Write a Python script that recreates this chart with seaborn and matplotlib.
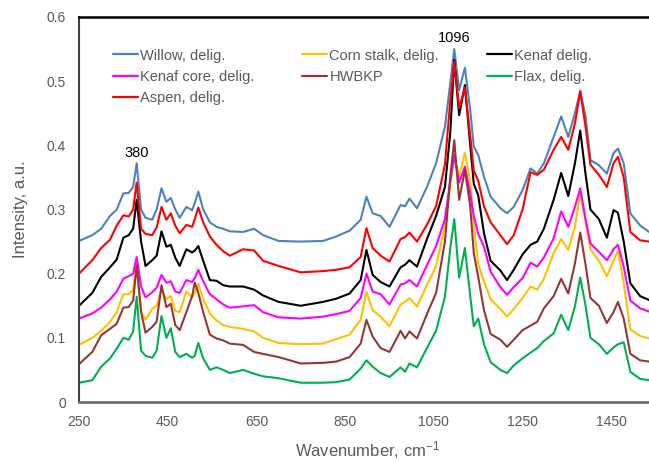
import numpy as np
import pandas as pd
import matplotlib
matplotlib.use("Agg")
import matplotlib.pyplot as plt
from matplotlib.lines import Line2D
import seaborn as sns

wavenumber = [250, 280, 300, 320, 335, 350, 362, 372, 380, 390,
              400, 415, 425, 436, 447, 457, 467, 477, 492, 505,
              511, 519, 530, 545, 560, 575, 590, 620, 645, 665,
              700, 750, 800, 830, 860, 885, 898, 912, 930, 950,
              975, 985, 995, 1012, 1035, 1055, 1075, 1087, 1096, 1107,
              1120, 1132, 1140, 1150, 1163, 1178, 1200, 1215, 1230, 1250,
              1268, 1283, 1298, 1320, 1337, 1353, 1368, 1380, 1392, 1403,
              1422, 1440, 1455, 1465, 1478, 1493, 1515, 1535]

willow = [.251, .260, .270, .290, .300, .325, .326, .335, .372, .300,
          .287, .284, .300, .333, .312, .318, .300, .287, .304, .299,
          .310, .328, .300, .280, .273, .270, .266, .265, .270, .260,
          .251, .250, .251, .258, .267, .284, .320, .294, .290, .273,
          .307, .305, .317, .302, .336, .372, .429, .497, .550, .486,
          .521, .455, .398, .385, .351, .320, .302, .294, .304, .330,
          .364, .356, .372, .413, .445, .413, .450, .485, .445, .377,
          .369, .356, .388, .395, .372, .294, .275, .265]

aspen = [.200, .221, .240, .253, .275, .291, .289, .300, .342, .270,
         .262, .260, .272, .304, .284, .294, .275, .263, .276, .273,
         .285, .303, .280, .258, .245, .235, .228, .238, .236, .220,
         .212, .202, .204, .206, .210, .226, .271, .240, .228, .219,
         .254, .257, .264, .250, .277, .305, .370, .470, .530, .458,
         .490, .415, .360, .345, .305, .280, .260, .246, .260, .300,
         .358, .354, .362, .393, .413, .393, .434, .484, .429, .370,
         .354, .335, .372, .382, .350, .265, .252, .250]

kenaf = [.150, .170, .195, .210, .222, .256, .260, .270, .315, .250,
         .212, .221, .228, .266, .242, .245, .225, .212, .238, .233,
         .236, .243, .220, .190, .189, .182, .180, .180, .175, .166,
         .156, .150, .156, .161, .169, .190, .237, .198, .187, .180,
         .210, .214, .221, .211, .255, .290, .335, .420, .533, .447,
         .494, .400, .340, .322, .263, .220, .205, .190, .206, .230,
         .245, .250, .270, .315, .357, .321, .372, .423, .355, .300,
         .285, .256, .299, .295, .250, .185, .165, .159]

kenaf_core = [.130, .138, .147, .160, .172, .192, .196, .200, .226, .180,
              .163, .171, .178, .198, .186, .188, .172, .170, .190, .187,
              .193, .206, .188, .168, .160, .152, .147, .149, .151, .140,
              .132, .130, .133, .137, .142, .162, .200, .172, .168, .152,
              .183, .185, .190, .180, .214, .243, .285, .345, .385, .342,
              .367, .325, .290, .262, .242, .203, .179, .167, .179, .193,
              .217, .211, .225, .255, .297, .273, .304, .333, .285, .247,
              .234, .221, .238, .245, .211, .158, .146, .141]

corn_stalk = [.089, .100, .111, .125, .140, .168, .168, .175, .215, .140,
              .128, .145, .150, .175, .160, .165, .142, .140, .172, .163,
              .170, .184, .160, .138, .127, .120, .117, .114, .110, .100,
              .092, .090, .091, .098, .105, .128, .172, .143, .133, .118,
              .152, .156, .162, .149, .183, .212, .275, .340, .380, .352,
              .388, .345, .275, .215, .188, .160, .145, .133, .145, .162,
              .180, .175, .192, .232, .254, .237, .273, .326, .280, .238,
              .220, .196, .220, .236, .185, .113, .103, .099]

hwbkp = [.059, .078, .104, .114, .122, .147, .148, .158, .213, .140,
         .108, .117, .125, .182, .148, .153, .120, .112, .140, .165,
         .186, .170, .140, .105, .099, .096, .091, .089, .078, .075,
         .070, .060, .061, .063, .070, .091, .128, .102, .084, .078,
         .111, .099, .110, .099, .138, .170, .250, .350, .408, .315,
         .362, .305, .232, .195, .143, .106, .097, .086, .097, .112,
         .119, .125, .146, .165, .192, .169, .216, .264, .214, .162,
         .150, .123, .140, .156, .130, .075, .065, .063]

flax = [.030, .034, .055, .068, .083, .100, .097, .110, .164, .080,
        .072, .069, .080, .134, .100, .115, .078, .070, .075, .069,
        .072, .092, .068, .050, .054, .050, .045, .050, .044, .040,
        .037, .030, .030, .031, .035, .052, .065, .055, .045, .039,
        .054, .047, .060, .054, .085, .111, .164, .240, .285, .194,
        .240, .165, .118, .130, .090, .062, .050, .045, .057, .068,
        .077, .084, .095, .107, .136, .112, .149, .194, .150, .100,
        .090, .075, .085, .090, .093, .047, .036, .034]

series_names = ["Willow, delig.", "Corn stalk, delig.", "Kenaf delig.",
                "Kenaf core, delig.", "HWBKP", "Flax, delig.", "Aspen, delig."]
series_values = [willow, corn_stalk, kenaf, kenaf_core, hwbkp, flax, aspen]
colors = ["#4F81BD", "#FFC000", "#000000", "#FF00FF", "#953735", "#00B050", "#FF0000"]

peak_labels = ["380", "1096"]
peak_x = [380, 1096]
peak_y = [0.388, 0.567]

sns.set_style("white")
plt.rcParams["font.family"] = ["Liberation Sans", "DejaVu Sans"]
plt.rcParams["mathtext.fontset"] = "custom"
plt.rcParams["mathtext.rm"] = "Liberation Sans"
plt.rcParams["mathtext.default"] = "rm"

df = pd.concat([pd.DataFrame({"Wavenumber": wavenumber, "Intensity": v, "Sample": n})
                for n, v in zip(series_names, series_values)], ignore_index=True)

fig = plt.figure(figsize=(6.49, 4.61), dpi=100)
ax = fig.add_axes([79 / 649, 1 - 402 / 461, 570 / 649, 385 / 461])

palette = dict(zip(series_names, colors))
sns.lineplot(data=df, x="Wavenumber", y="Intensity", hue="Sample", hue_order=series_names,
             palette=palette, estimator=None, sort=False, linewidth=1.5, ax=ax, legend=False)
for ln in ax.get_lines():
    ln.set_solid_joinstyle("round")

ax.set_xlim(250, 1535)
ax.set_ylim(0, 0.6)
ax.set_xticks(range(250, 1451, 200))
ax.set_yticks([0, 0.1, 0.2, 0.3, 0.4, 0.5, 0.6])
ax.set_yticklabels(["0", "0.1", "0.2", "0.3", "0.4", "0.5", "0.6"])

grey = "#595959"
ax.tick_params(axis="both", direction="out", length=3.5, width=1, color="#808080",
               labelcolor=grey, labelsize=10)
ax.tick_params(axis="x", pad=6)
ax.tick_params(axis="y", pad=6)

ax.spines["right"].set_visible(False)
ax.spines["top"].set_color("#000000")
ax.spines["top"].set_linewidth(1.8)
ax.spines["left"].set_color("#404040")
ax.spines["left"].set_linewidth(1.5)
ax.spines["bottom"].set_color("#707070")
ax.spines["bottom"].set_linewidth(2)

ax.set_xlabel("Wavenumber, cm$^{-1}$", fontsize=12, color=grey)
ax.xaxis.label.set_va("baseline")
ax.set_ylabel("Intensity, a.u.", fontsize=12, color=grey)
ax.xaxis.set_label_coords(0.507, (402 - 456) / 385)
ax.yaxis.set_label_coords(-0.09, 0.5)

for lab, xx, yy in zip(peak_labels, peak_x, peak_y):
    ax.text(xx, yy, lab, ha="center", va="center", fontsize=10.5, color="black")

order = [0, 3, 6, 1, 4, 2, 5]
handles = [Line2D([0], [0], color=colors[i], lw=1.6) for i in order]
labels = [series_names[i] for i in order]
ax.legend(handles, labels, ncol=3, loc="upper left", bbox_to_anchor=(0.0596, 0.918),
          frameon=False, fontsize=10.5, labelcolor=grey, handlelength=1.7,
          handletextpad=0.15, columnspacing=3.3, labelspacing=0.5,
          borderpad=0, borderaxespad=0)

fig.savefig("out.png", dpi=100)
